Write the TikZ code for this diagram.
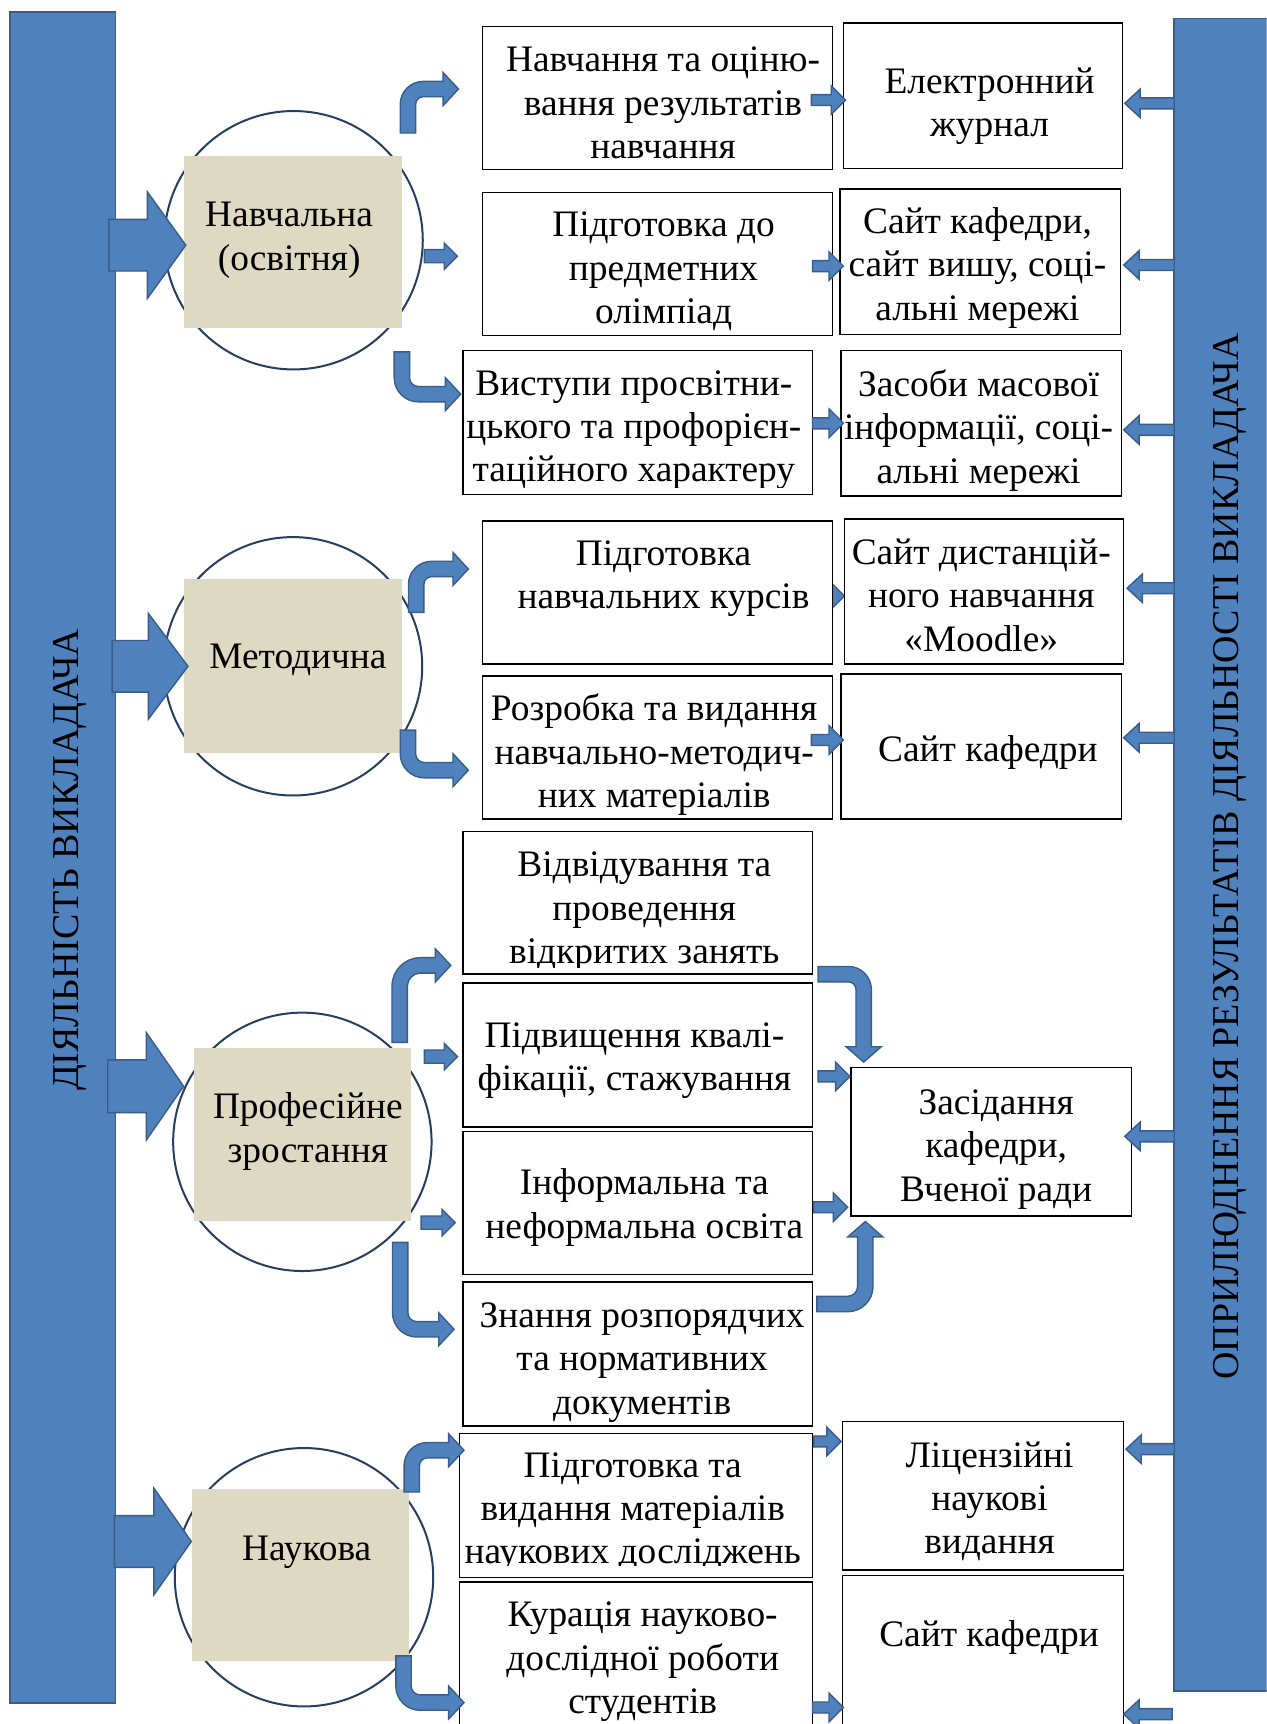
\documentclass[tikz,border=0pt]{standalone}
\usepackage{fontspec}
\setmainfont{Liberation Serif}
\definecolor{barblue}{HTML}{4F81BD}
\definecolor{bardark}{HTML}{385D8A}
\definecolor{circblue}{HTML}{243F60}
\definecolor{sqtan}{HTML}{DDD9C3}
\tikzset{
 fsz/.style={font=\fontsize{18.7}{21.7}\selectfont},
 mbox/.style={draw=black, line width=0.7pt, fill=white, inner sep=0pt},
 barbox/.style={draw=bardark, line width=0.8pt, fill=barblue, inner sep=0pt},
 ringc/.style={circle, draw=circblue, line width=1pt, inner sep=0pt},
 sqbox/.style={fill=sqtan, inner sep=0pt},
 lbltext/.style={align=center, fsz, inner sep=0pt},
 bartext/.style={align=center, font=\fontsize{19}{21.7}\selectfont, inner sep=0pt, rotate=90},
 blk/.style={fill=barblue, draw=bardark, line width=0.7pt, line join=miter},
}
% box with text: name, x1,y1,x2,y2, text-centre x, text-centre y, text
\newcommand{\myBox}[8]{%
 \node[mbox, minimum width={(#4-#2)*0.55pt}, minimum height={(#5-#3)*0.55pt}] (#1) at ({(#2+#4)/2},{(#3+#5)/2}) {};
 \node[lbltext] (#1t) at ({#6},{#7}) {\strut #8\strut};}
% same, text clipped at y = #8
\newcommand{\myBoxC}[9]{%
 \node[mbox, minimum width={(#4-#2)*0.55pt}, minimum height={(#5-#3)*0.55pt}] (#1) at ({(#2+#4)/2},{(#3+#5)/2}) {};
 \begin{scope}
 \clip ({#2},{#3}) rectangle ({#4},{#8});
 \node[lbltext] (#1t) at ({#6},{#7}) {\strut #9\strut};
 \end{scope}}
\newcommand{\mySq}[5]{%
 \node[sqbox, minimum width={(#4-#2)*0.55pt}, minimum height={(#5-#3)*0.55pt}] (#1) at ({(#2+#4)/2},{(#3+#5)/2}) {};}
% big block arrow: xs, xb, xt, yc, a, h
\newcommand{\myBig}[6]{%
 \filldraw[blk] ({#1},{#4-#5}) -- ({#2},{#4-#5}) -- ({#2},{#4-#6}) -- ({#3},{#4}) -- ({#2},{#4+#6}) -- ({#2},{#4+#5}) -- ({#1},{#4+#5}) -- cycle;}
% right block arrow: xs, xt, y, a, h, HL
\newcommand{\myRA}[6]{%
 \filldraw[blk] ({#1},{#3-#4}) -- ({#2-#6},{#3-#4}) -- ({#2-#6},{#3-#5}) -- ({#2},{#3}) -- ({#2-#6},{#3+#5}) -- ({#2-#6},{#3+#4}) -- ({#1},{#3+#4}) -- cycle;}
% left block arrow: xt, xe, y, a, h, HL
\newcommand{\myLA}[6]{%
 \filldraw[blk] ({#2},{#3-#4}) -- ({#1+#6},{#3-#4}) -- ({#1+#6},{#3-#5}) -- ({#1},{#3}) -- ({#1+#6},{#3+#5}) -- ({#1+#6},{#3+#4}) -- ({#2},{#3+#4}) -- cycle;}
% up then right: x0, y0, yc, xt, r
\newcommand{\myUR}[5]{%
 \pgfmathsetmacro{\myRo}{#5+7}\pgfmathsetmacro{\myRi}{#5-7}%
 \filldraw[blk] ({#1-7},{#2}) -- ({#1-7},{#3+#5}) .. controls ({#1-7},{#3+#5-0.552*\myRo}) and ({#1+#5-0.552*\myRo},{#3-7}) .. ({#1+#5},{#3-7}) -- ({#4-14},{#3-7}) -- ({#4-14},{#3-15}) -- ({#4},{#3}) -- ({#4-14},{#3+15}) -- ({#4-14},{#3+7}) -- ({#1+#5},{#3+7}) .. controls ({#1+#5-0.552*\myRi},{#3+7}) and ({#1+7},{#3+#5-0.552*\myRi}) .. ({#1+7},{#3+#5}) -- ({#1+7},{#2}) -- cycle;}
% down then right: x0, y0, yc, xt, r
\newcommand{\myDR}[5]{%
 \pgfmathsetmacro{\myRo}{#5+7}\pgfmathsetmacro{\myRi}{#5-7}%
 \filldraw[blk] ({#1-7},{#2}) -- ({#1-7},{#3-#5}) .. controls ({#1-7},{#3-#5+0.552*\myRo}) and ({#1+#5-0.552*\myRo},{#3+7}) .. ({#1+#5},{#3+7}) -- ({#4-14},{#3+7}) -- ({#4-14},{#3+15}) -- ({#4},{#3}) -- ({#4-14},{#3-15}) -- ({#4-14},{#3-7}) -- ({#1+#5},{#3-7}) .. controls ({#1+#5-0.552*\myRi},{#3-7}) and ({#1+7},{#3-#5+0.552*\myRi}) .. ({#1+7},{#3-#5}) -- ({#1+7},{#2}) -- cycle;}
% right then down: x0, y0, xc, yt, r
\newcommand{\myRD}[5]{%
 \pgfmathsetmacro{\myRo}{#5+7}\pgfmathsetmacro{\myRi}{#5-7}%
 \filldraw[blk] ({#1},{#2-7}) -- ({#3-#5},{#2-7}) .. controls ({#3-#5+0.552*\myRo},{#2-7}) and ({#3+7},{#2+#5-0.552*\myRo}) .. ({#3+7},{#2+#5}) -- ({#3+7},{#4-14}) -- ({#3+16},{#4-14}) -- ({#3},{#4}) -- ({#3-16},{#4-14}) -- ({#3-7},{#4-14}) -- ({#3-7},{#2+#5}) .. controls ({#3-7},{#2+#5-0.552*\myRi}) and ({#3-#5+0.552*\myRi},{#2+7}) .. ({#3-#5},{#2+7}) -- ({#1},{#2+7}) -- cycle;}
% right then up: x0, y0, xc, yt, r
\newcommand{\myRU}[5]{%
 \pgfmathsetmacro{\myRo}{#5+7}\pgfmathsetmacro{\myRi}{#5-7}%
 \filldraw[blk] ({#1},{#2+7}) -- ({#3-#5},{#2+7}) .. controls ({#3-#5+0.552*\myRo},{#2+7}) and ({#3+7},{#2-#5+0.552*\myRo}) .. ({#3+7},{#2-#5}) -- ({#3+7},{#4+14}) -- ({#3+16},{#4+14}) -- ({#3},{#4}) -- ({#3-16},{#4+14}) -- ({#3-7},{#4+14}) -- ({#3-7},{#2-#5}) .. controls ({#3-7},{#2-#5+0.552*\myRi}) and ({#3-#5+0.552*\myRi},{#2-7}) .. ({#3-#5},{#2-7}) -- ({#1},{#2-7}) -- cycle;}
\begin{document}
\begin{tikzpicture}[x=0.55pt,y=-0.55pt]
\useasboundingbox (0,0) rectangle (1152,1568);
\clip (0,0) rectangle (1152,1568);
% side bars
\node[barbox, minimum width={96*0.55pt}, minimum height={1538*0.55pt}] (lbar) at (57,780) {};
\node[barbox, minimum width={97*0.55pt}, minimum height={1521*0.55pt}] (rbar) at (1116.5,777.5) {};
\node[bartext] (lbart) at (64,782) {ДІЯЛЬНІСТЬ ВИКЛАДАЧА};
\node[bartext] (rbart) at (1119,779) {ОПРИЛЮДНЕННЯ РЕЗУЛЬТАТІВ ДІЯЛЬНОСТІ ВИКЛАДАЧА};
% rings
\node[ringc, minimum size={235*0.55pt}] (c1) at (267,218.5) {};
\node[ringc, minimum size={235*0.55pt}] (c2) at (266.5,606) {};
\node[ringc, minimum size={235*0.55pt}] (c3) at (275,1038.5) {};
\node[ringc, minimum size={235*0.55pt}] (c4) at (276.5,1434.5) {};
% squares
\mySq{s1}{167}{142}{365.5}{298.5}
\mySq{s2}{167}{527}{365.5}{684.5}
\mySq{s3}{176.5}{953.5}{374}{1110.5}
\mySq{s4}{174.5}{1354.5}{372}{1511}
\node[lbltext] (q1) at (263,218) {\strut Навчальна\\(освітня)\strut};
\node[lbltext] (q2) at (271,600.5) {\strut Методична\strut};
\node[lbltext] (q3) at (280,1029.5) {\strut Професійне\\зростання\strut};
\node[lbltext] (q4) at (279,1411) {\strut Наукова\strut};
% big arrows from the left bar
\myBig{99}{134}{169}{223}{23.5}{48.5}
\myBig{102}{135}{171}{606}{23.5}{48}
\myBig{98}{133}{167}{988}{24}{49}
\myBig{104}{140}{174}{1402}{23.5}{48.5}
% arrow partly hidden behind box
\myRA{745}{768}{542}{5}{12}{12}
% middle boxes
\myBox{b1}{439}{24}{757}{154}{603}{97}{Навчання та оціню-\\вання результатів\\навчання}
\myBox{b2}{439}{175}{757}{305}{603.5}{247}{Підготовка до\\предметних\\олімпіад}
\myBoxC{b3}{421}{319}{739}{450}{576.5}{391}{443}{Виступи просвітни-\\цького та профорієн-\\таційного характеру}
\myBox{b4}{439}{474}{757}{604}{603.5}{526}{Підготовка\\навчальних курсів}
\myBox{b5}{439}{615}{757}{745}{595}{687}{Розробка та видання\\навчально-методич-\\них матеріалів}
\myBoxC{b6}{421}{756}{739}{886}{586}{829}{880}{Відвідування та\\проведення\\відкритих занять}
\myBox{b7}{421}{894}{739}{1025}{577}{964.5}{Підвищення квалі-\\фікації, стажування}
\myBox{b8}{421}{1029}{739}{1159}{586}{1098.5}{Інформальна та\\неформальна освіта}
\myBox{b9}{421}{1166}{739}{1297}{584}{1239}{Знання розпорядчих\\та нормативних\\документів}
\myBoxC{b10}{418}{1304}{739}{1435}{575.5}{1375}{1424}{Підготовка та\\видання матеріалів\\наукових досліджень}
\myBox{b11}{418}{1439}{739}{1580}{584.5}{1511}{Курація науково-\\дослідної роботи\\студентів}
% right boxes
\myBox{r1}{767}{21}{1021}{153}{900}{96.5}{Електронний\\журнал}
\myBox{r2}{764}{172}{1019}{304}{889}{244}{Сайт кафедри,\\сайт вишу, соці-\\альні мережі}
\myBox{r3}{765}{319}{1020}{451}{890}{392}{Засоби масової\\інформації, соці-\\альні мережі}
\myBox{r4}{768}{472}{1022}{604}{892.5}{545}{Сайт дистанцій-\\ного навчання\\«Moodle»}
\myBox{r5}{765}{613}{1020}{745}{898.5}{685}{Сайт кафедри}
\myBox{r6}{774}{971}{1029}{1106}{906}{1045}{Засідання\\кафедри,\\Вченої ради}
\myBox{r7}{766}{1293}{1022}{1428}{900}{1366}{Ліцензійні\\наукові\\видання}
\myBox{r8}{766}{1433}{1022}{1580}{899.5}{1490}{Сайт кафедри}
% bent arrows from the circles
\myUR{371}{121}{81}{417}{14}
\myUR{378.5}{557}{517.5}{426}{14}
\myUR{363.5}{948}{878}{410}{19}
\myUR{374.5}{1357}{1319}{422}{14}
\myDR{365.5}{320}{358.5}{419}{15}
\myDR{371}{664}{700.5}{426}{15}
\myDR{364}{1130}{1209}{413}{15}
\myDR{367}{1506}{1548.5}{422}{15}
\myRA{386}{416}{233}{6}{12}{12}
\myRA{386}{416}{961}{6}{12}{12}
\myRA{383}{414}{1112}{6}{12}{12}
% arrows middle -> right
\myRA{738}{769}{91}{5}{13}{13}
\myRA{739}{767}{242}{5}{13}{13}
\myRA{739}{767}{385}{5}{13}{13}
\myRA{738}{767}{673}{5}{13}{13}
\myRA{744}{773}{979}{5}{13}{13}
\myRA{740}{771}{1098}{5}{13}{13}
\myRA{740}{765}{1311}{5}{13}{13}
\myRA{739}{767}{1553}{5}{13}{13}
\myRD{744}{886}{785.5}{966}{14}
\myRU{743}{1186}{787}{1111}{16}
% arrows from the right bar
\myLA{1023}{1068}{94}{5}{13}{14}
\myLA{1022}{1068}{241}{5}{13}{14}
\myLA{1022}{1068}{391}{5}{13}{14}
\myLA{1025}{1068}{535}{5}{13}{14}
\myLA{1022}{1068}{671}{5}{13}{14}
\myLA{1023}{1068}{1033.5}{5}{13}{14}
\myLA{1024}{1068}{1318}{5}{13}{14}
\myLA{1022}{1066}{1559}{5}{13}{14}
\end{tikzpicture}
\end{document}
